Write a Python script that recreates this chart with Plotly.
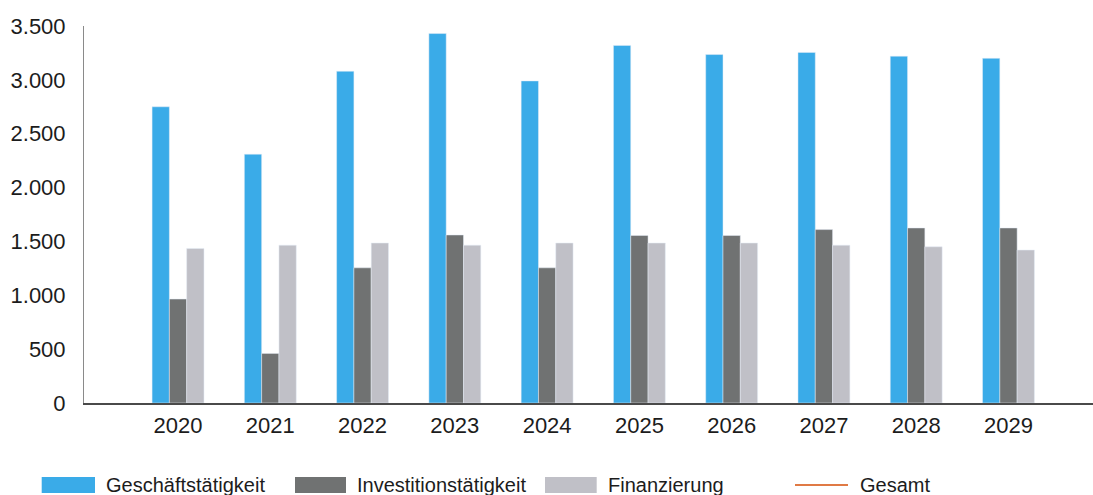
import plotly.graph_objects as go

years = ["2020", "2021", "2022", "2023", "2024", "2025", "2026", "2027", "2028", "2029"]
geschaeft = [2750, 2310, 3080, 3430, 2990, 3320, 3235, 3255, 3220, 3200]
investition = [965, 460, 1255, 1560, 1255, 1555, 1555, 1610, 1625, 1625]
finanzierung = [1435, 1465, 1485, 1465, 1485, 1485, 1485, 1465, 1450, 1420]
gesamt = []  # line not visible in the reference

series_names = ["Geschäftstätigkeit", "Investitionstätigkeit", "Finanzierung", "Gesamt"]
c_blue = "#3AABE8"
c_dark = "#707272"
c_light = "#C0C0C7"
c_orange = "#E07A45"
font_fam = "Liberation Sans, Arial, sans-serif"
txt = "#1c1c1c"

W, H = 1093, 495
ML, MR, MT, MB = 84, 0, 26, 92

fig = go.Figure()
fig.add_trace(go.Bar(x=years, y=geschaeft, name=series_names[0], marker_color=c_blue, showlegend=False))
fig.add_trace(go.Bar(x=years, y=investition, name=series_names[1], marker_color=c_dark, showlegend=False))
fig.add_trace(go.Bar(x=years, y=finanzierung, name=series_names[2], marker_color=c_light, showlegend=False))
fig.add_trace(go.Scatter(x=years[:len(gesamt)], y=gesamt, name=series_names[3], mode="lines",
                         line=dict(color=c_orange, width=2), showlegend=False))

# manual legend (pixel positions -> paper coordinates)
pw = W - ML - MR
ph = H - MT - MB
def px(x):
    return (x - ML) / pw
def py(y):
    return (H - MB - y) / ph

legend_items = [
    (series_names[0], c_blue, 41.7, 95, 104, "rect"),
    (series_names[1], c_dark, 295, 346, 355, "rect"),
    (series_names[2], c_light, 545, 596.7, 605.5, "rect"),
    (series_names[3], c_orange, 795, 848, 857.5, "line"),
]
shapes = []
annotations = []
for name, col, x0, x1, xt, kind in legend_items:
    if kind == "rect":
        shapes.append(dict(type="rect", xref="paper", yref="paper",
                           x0=px(x0), x1=px(x1), y0=py(493), y1=py(477),
                           fillcolor=col, line=dict(width=0)))
    else:
        shapes.append(dict(type="line", xref="paper", yref="paper",
                           x0=px(x0), x1=px(x1), y0=py(485), y1=py(485),
                           line=dict(color=col, width=2)))
    annotations.append(dict(text=name, xref="paper", yref="paper", x=px(xt), y=py(485),
                            xanchor="left", yanchor="middle", showarrow=False,
                            font=dict(family=font_fam, size=20, color=txt)))

fig.update_layout(
    width=W, height=H,
    margin=dict(l=ML, r=MR, t=MT, b=MB, pad=0),
    paper_bgcolor="white", plot_bgcolor="white",
    barmode="group", bargap=0.4375, bargroupgap=0,
    separators=",.",
    font=dict(family=font_fam, size=21, color=txt),
    shapes=shapes, annotations=annotations,
    showlegend=False,
)
fig.update_xaxes(type="category", range=[-1.019, 9.916], showline=True, linecolor="#4a4a4a",
                 linewidth=1.5, showgrid=False, zeroline=False, ticks="",
                 ticklabelstandoff=2, tickfont=dict(size=22, color=txt))
fig.update_yaxes(range=[0, 3500], dtick=500, tickformat=",d", showline=True, linecolor="#8a8a8a",
                 linewidth=1, showgrid=False, zeroline=False, ticks="",
                 ticklabelstandoff=13, tickfont=dict(size=22, color=txt))

fig.write_html("out.html", config={"displayModeBar": False},
               post_script="document.body.style.margin='0';")
